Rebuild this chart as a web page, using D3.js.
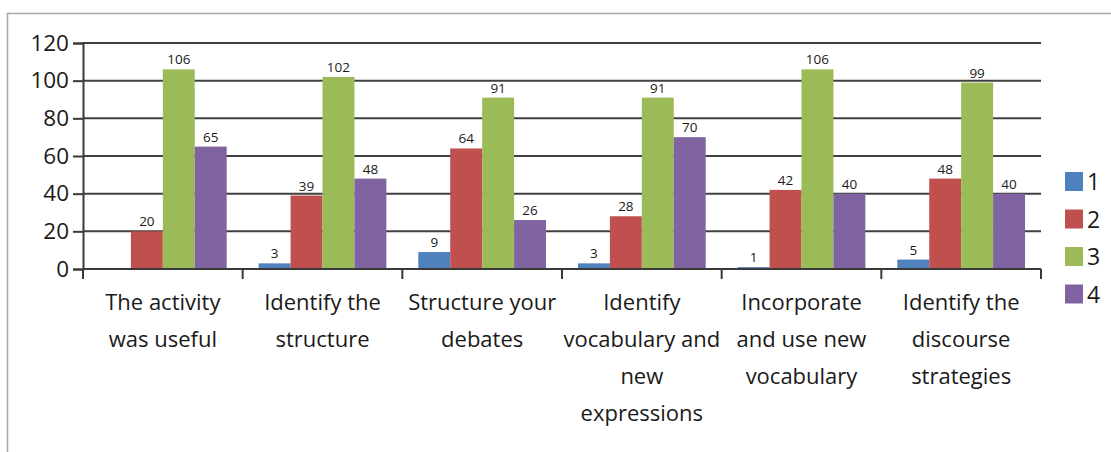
<!DOCTYPE html>
<html>
<head>
<meta charset="utf-8">
<script src="https://cdn.jsdelivr.net/npm/d3@7"></script>
<style>
  html, body { margin: 0; padding: 0; background: #fff; }
  svg { display: block; }
  text { font-family: "Open Sans", Arial, sans-serif; fill: #1a1a1a; }
</style>
</head>
<body>
<svg id="chart" width="1111" height="452"></svg>
<script>
// Survey items (category axis)
const categories = [
  ["The activity", "was useful"],
  ["Identify the", "structure"],
  ["Structure your", "debates"],
  ["Identify", "vocabulary and", "new", "expressions"],
  ["Incorporate", "and use new", "vocabulary"],
  ["Identify the", "discourse", "strategies"]
];

// Rating series (legend entries)
const seriesNames = ["1", "2", "3", "4"];

// Response counts per rating, one entry per category
const series1 = [null, 3, 9, 3, 1, 5];
const series2 = [20, 39, 64, 28, 42, 48];
const series3 = [106, 102, 91, 91, 106, 99];
const series4 = [65, 48, 26, 70, 40, 40];

const yTicks = [0, 20, 40, 60, 80, 100, 120];
const colors = ["#4F81BD", "#C0504D", "#9BBB59", "#8064A2"];

const allSeries = [series1, series2, series3, series4];
const rows = categories.map((c, i) => ({
  idx: i,
  label: c,
  values: seriesNames.map((s, k) => ({ key: s, k, value: allSeries[k][i] }))
}));

const svg = d3.select("#chart");
const plot = { left: 83, right: 1041, top: 43, bottom: 269 };

// Outer frame
svg.append("rect")
  .attr("x", 7.5).attr("y", 13.5)
  .attr("width", 1120).attr("height", 460)
  .attr("fill", "none").attr("stroke", "#a6a6a6").attr("stroke-width", 1.5);

const x0 = d3.scaleBand()
  .domain(d3.range(categories.length))
  .range([plot.left, plot.right])
  .padding(0);

const x1 = d3.scaleBand()
  .domain(seriesNames)
  .range([0, x0.bandwidth()])
  .paddingInner(0)
  .paddingOuter(0.5);

const y = d3.scaleLinear().domain([0, 120]).range([plot.bottom, plot.top]);

// Horizontal gridlines
svg.append("g")
  .selectAll("line")
  .data(yTicks.filter(t => t > 0))
  .join("line")
  .attr("x1", plot.left).attr("x2", plot.right)
  .attr("y1", d => y(d)).attr("y2", d => y(d))
  .attr("stroke", "#404040").attr("stroke-width", 2);

// Bars
const groups = svg.append("g")
  .selectAll("g")
  .data(rows)
  .join("g")
  .attr("transform", d => `translate(${x0(d.idx)},0)`);

groups.selectAll("rect")
  .data(d => d.values.filter(v => v.value != null))
  .join("rect")
  .attr("x", d => x1(d.key))
  .attr("y", d => y(d.value))
  .attr("width", x1.bandwidth())
  .attr("height", d => y(0) - y(d.value))
  .attr("fill", d => colors[d.k]);

// Value labels
groups.selectAll("text.val")
  .data(d => d.values.filter(v => v.value != null))
  .join("text")
  .attr("class", "val")
  .attr("x", d => x1(d.key) + x1.bandwidth() / 2)
  .attr("y", d => y(d.value) - 5)
  .attr("text-anchor", "middle")
  .attr("font-size", 13.5)
  .text(d => d.value);

// Y axis
const yAxis = d3.axisLeft(y).tickValues(yTicks).tickSize(10).tickPadding(4);
const gy = svg.append("g")
  .attr("transform", `translate(${plot.left},0)`)
  .call(yAxis);
gy.select(".domain").attr("stroke", "#3a3a3a").attr("stroke-width", 2);
gy.selectAll(".tick line").attr("stroke", "#3a3a3a").attr("stroke-width", 2);
gy.selectAll(".tick text")
  .attr("font-size", 22.5)
  .attr("fill", "#1a1a1a")
  .style("font-family", "'Open Sans', Arial, sans-serif");

// X axis baseline and group boundary ticks
svg.append("line")
  .attr("x1", plot.left).attr("x2", plot.right)
  .attr("y1", y(0)).attr("y2", y(0))
  .attr("stroke", "#3a3a3a").attr("stroke-width", 2);

const boundaries = d3.range(categories.length + 1).map(i =>
  i < categories.length ? x0(i) : x0(categories.length - 1) + x0.bandwidth());
svg.append("g")
  .selectAll("line")
  .data(boundaries)
  .join("line")
  .attr("x1", d => d).attr("x2", d => d)
  .attr("y1", y(0)).attr("y2", y(0) + 10)
  .attr("stroke", "#3a3a3a").attr("stroke-width", 2);

// Category labels
const catText = svg.append("g")
  .selectAll("text")
  .data(rows)
  .join("text")
  .attr("x", d => x0(d.idx) + x0.bandwidth() / 2)
  .attr("y", 310)
  .attr("text-anchor", "middle")
  .attr("font-size", 22);
catText.selectAll("tspan")
  .data(d => d.label.map((line, j) => ({ line, j, cx: x0(d.idx) + x0.bandwidth() / 2 })))
  .join("tspan")
  .attr("x", d => d.cx)
  .attr("dy", d => d.j === 0 ? 0 : 37)
  .text(d => d.line);

// Legend
const legend = svg.append("g")
  .selectAll("g")
  .data(seriesNames)
  .join("g")
  .attr("transform", (d, i) => `translate(1065,${172 + i * 37.5})`);
legend.append("rect")
  .attr("width", 18).attr("height", 19)
  .attr("fill", (d, i) => colors[i]);
legend.append("text")
  .attr("x", 22).attr("y", 18)
  .attr("font-size", 23)
  .text(d => d);
</script>
</body>
</html>
